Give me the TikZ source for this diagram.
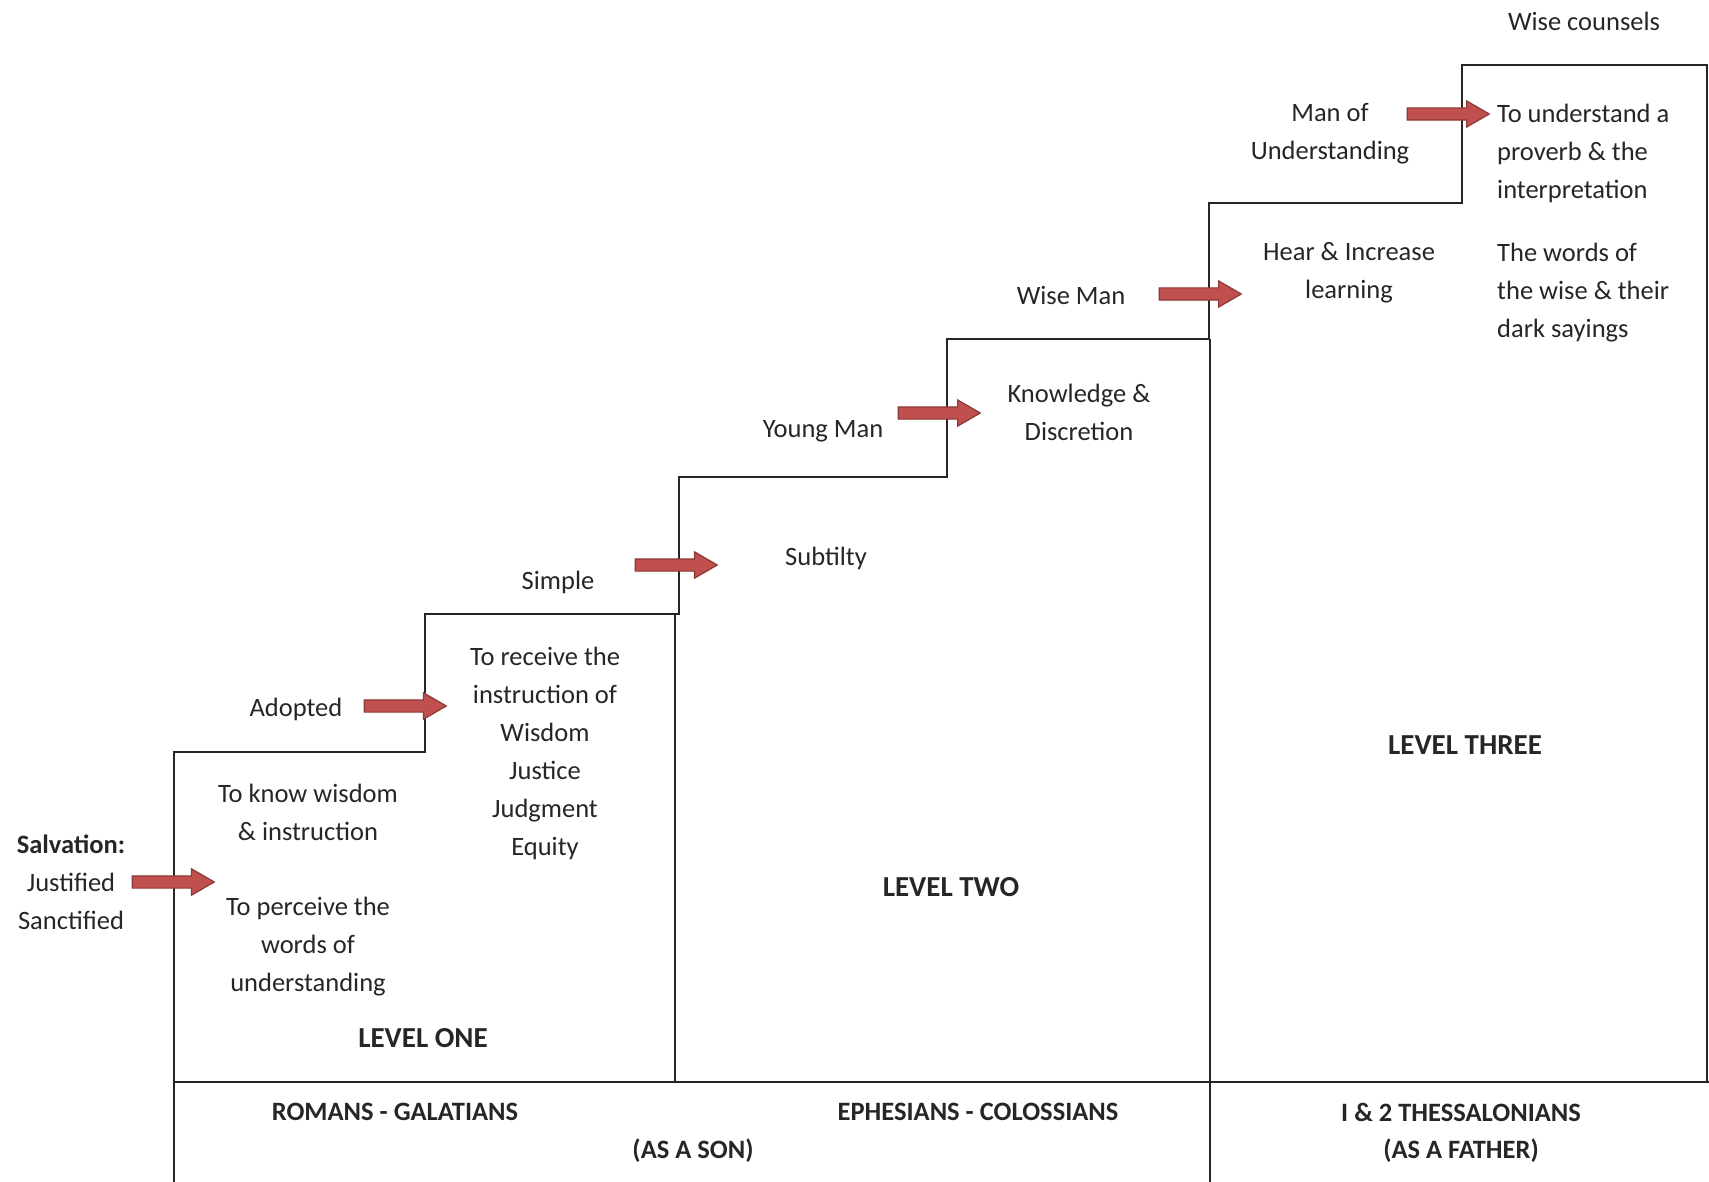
\documentclass[tikz,border=0pt]{standalone}
\usepackage{fontspec}
\setmainfont{Carlito}
\usetikzlibrary{shapes.arrows}
\definecolor{arrfill}{HTML}{C0504D}
\definecolor{arrdraw}{HTML}{8C3836}
\begin{document}
\begin{tikzpicture}[x=1pt,y=-1pt,
  txt/.style={inner sep=0pt,align=center,font=\fontsize{26.5}{38}\selectfont,text=black!85},
  txtl/.style={txt,align=left},
  bld/.style={txt,font=\fontsize{26.5}{38}\selectfont\bfseries},
  lvl/.style={txt,font=\fontsize{29}{38}\selectfont\bfseries},
  blockarrow/.style={single arrow,draw=arrdraw,fill=arrfill,line width=1.2pt,
    minimum height=82pt,inner xsep=0pt,inner ysep=5.5pt,single arrow head extend=7pt,
    single arrow tip angle=60,text height=0pt,text depth=0pt},
  stair/.style={draw=black!85,line width=2pt}]
\useasboundingbox (0,0) rectangle (1709,1182);
% staircase
\draw[stair] (174,1182) -- (174,752) -- (425,752) -- (425,614) -- (679,614) -- (679,477)
  -- (947,477) -- (947,339) -- (1209,339) -- (1209,203) -- (1462,203) -- (1462,65)
  -- (1707,65) -- (1707,1082);
\draw[stair] (174,1082) -- (1709,1082);
\draw[stair] (675,614) -- (675,1082);
\draw[stair] (1210,339) -- (1210,1182);
% arrows
\node[blockarrow] (a1) at (168,882) {};
\node[blockarrow] (a2) at (400,706) {};
\node[blockarrow] (a3) at (671,565) {};
\node[blockarrow] (a4) at (934,413) {};
\node[blockarrow] (a5) at (1195,294) {};
\node[blockarrow] (a6) at (1443,114) {};
% texts
\node[txt] (wc) at (1584,21) {Wise counsels};
\node[txt] (mou) at (1330,134) {Man of\\Understanding};
\node[txtl,anchor=west] (tua) at (1497,153) {To understand a\\proverb \& the\\interpretation};
\node[txt] (hil) at (1349,273) {Hear \& Increase\\learning};
\node[txtl,anchor=west] (twf) at (1497,293) {The words of\\the wise \& their\\dark sayings};
\node[txt] (wm) at (1071,295) {Wise Man};
\node[txt] (kd) at (1079,412) {Knowledge \&\\Discretion};
\node[txt] (ym) at (823,431) {Young Man};
\node[txt] (sub) at (826,558) {Subtilty};
\node[txt] (sim) at (558,582) {Simple};
\node[txt] (rec) at (545,753) {To receive the\\instruction of\\Wisdom\\Justice\\Judgment\\Equity};
\node[txt] (ado) at (296,709) {Adopted};
\node[txt] (kw) at (308,812) {To know wisdom\\\& instruction};
\node[bld] (sal) at (71,844) {Salvation:};
\node[txt] (jus) at (71,882) {Justified};
\node[txt] (san) at (71,920) {Sanctified};
\node[txt] (per) at (308,947) {To perceive the\\words of\\understanding};
\node[lvl] (l3) at (1465,745) {LEVEL THREE};
\node[lvl] (l2) at (951,887) {LEVEL TWO};
\node[lvl] (l1) at (423,1038) {LEVEL ONE};
\node[bld] (rg) at (395,1112) {ROMANS - GALATIANS};
\node[bld] (ec) at (978,1112) {EPHESIANS - COLOSSIANS};
\node[bld] (son) at (693,1151) {(AS A SON)};
\node[bld] (th) at (1461,1112) {I \& 2 THESSALONIANS};
\node[bld] (fa) at (1461,1151) {(AS A FATHER)};
\end{tikzpicture}
\end{document}
